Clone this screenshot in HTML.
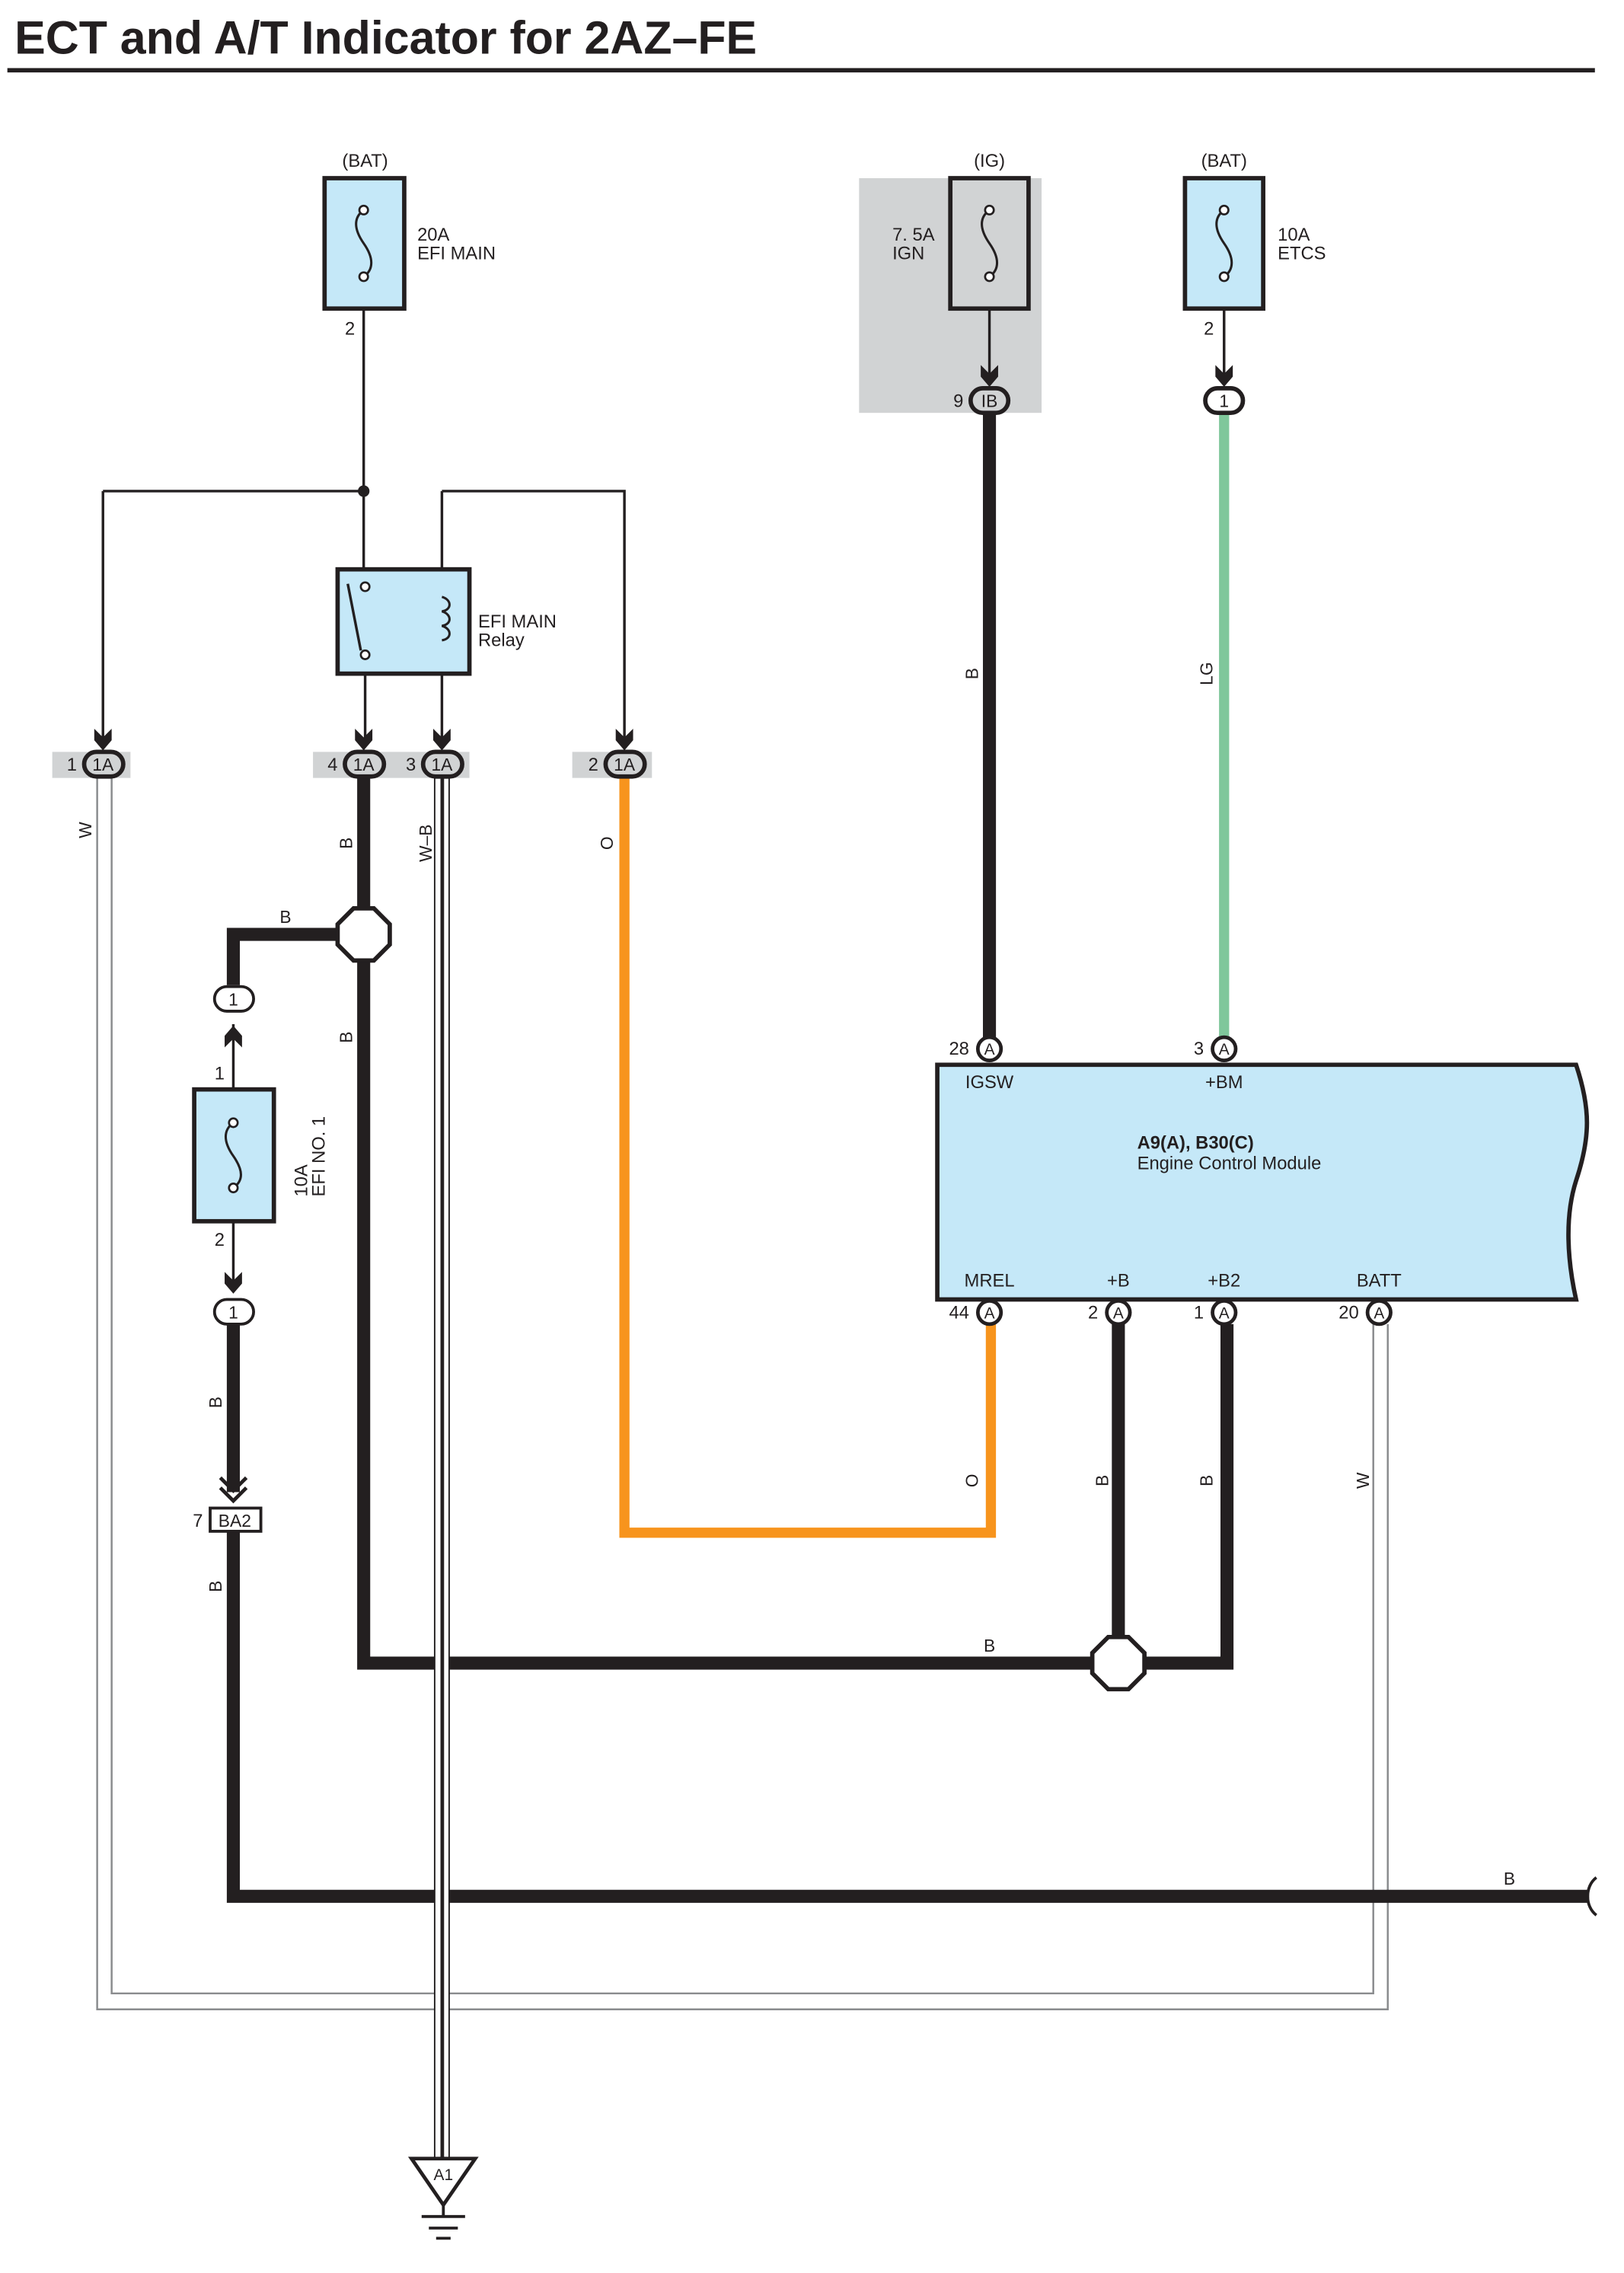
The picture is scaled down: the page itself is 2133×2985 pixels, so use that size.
<!DOCTYPE html>
<html><head><meta charset="utf-8"><style>
html,body{margin:0;padding:0;background:#fff}
svg{display:block}
text{font-family:"Liberation Sans",sans-serif;fill:#231f20}
</style></head><body>
<svg width="2133" height="2985" viewBox="0 0 1121 1569" xmlns="http://www.w3.org/2000/svg">
<defs>
<g id="arr"><path d="M-6,-12 L0,-6 L6,-12 L6,-4 L0,3 L-6,-4 Z" fill="#231f20"/></g>
</defs>
<text x="10" y="37" font-size="32" font-weight="bold">ECT and A/T Indicator for 2AZ–FE</text>
<rect x="5" y="47" width="1096" height="3" fill="#231f20"/>

<!-- gray backgrounds -->
<rect x="593" y="123" width="126" height="162" fill="#d1d3d4"/>
<rect x="36" y="519" width="54" height="18" fill="#d1d3d4"/>
<rect x="216" y="519" width="108" height="18" fill="#d1d3d4"/>
<rect x="395" y="519" width="55" height="18" fill="#d1d3d4"/>

<!-- W wire loop -->
<g fill="none" stroke="#8a8c8e" stroke-width="1.3">
<path d="M67,537 V1387 H958 V914"/>
<path d="M77,537 V1376 H948 V914"/>
</g>

<!-- thin wires -->
<g fill="none" stroke="#231f20" stroke-width="1.8">
<path d="M251,213 V405"/>
<path d="M252,452 V510"/>
<path d="M71,339 H251"/>
<path d="M71,339 V510"/>
<path d="M305,339 H431 V510"/>
<path d="M305,339 V412"/>
<path d="M305,442 V510"/>
<path d="M683,213 V262"/>
<path d="M845,213 V262"/>
<path d="M161,707 V843"/>
<path d="M161,752 V887"/>
</g>
<circle cx="251" cy="339" r="4" fill="#231f20"/>

<!-- fuses -->
<g stroke="#231f20" stroke-width="3">
<rect x="224" y="123" width="55" height="90" fill="#c5e8f8"/>
<rect x="656" y="123" width="54" height="90" fill="#d1d3d4"/>
<rect x="818" y="123" width="54" height="90" fill="#c5e8f8"/>
<rect x="134" y="752" width="55" height="91" fill="#c5e8f8"/>
<rect x="233" y="393" width="91" height="72" fill="#c5e8f8"/>
</g>
<g fill="none" stroke="#231f20" stroke-width="1.6">
<path d="M251,145 C244,150 244,158 251,168 C258,178 258,186 251,191"/>
<path d="M683,145 C676,150 676,158 683,168 C690,178 690,186 683,191"/>
<path d="M845,145 C838,150 838,158 845,168 C852,178 852,186 845,191"/>
<path d="M161,775 C154,780 154,788 161,798 C168,808 168,815 161,820"/>
</g>
<g fill="#fff" stroke="#231f20" stroke-width="1.4">
<circle cx="251" cy="145" r="3"/><circle cx="251" cy="191" r="3"/>
<circle cx="683" cy="145" r="3"/><circle cx="683" cy="191" r="3"/>
<circle cx="845" cy="145" r="3"/><circle cx="845" cy="191" r="3"/>
<circle cx="161" cy="775" r="3"/><circle cx="161" cy="820" r="3"/>
</g>
<!-- relay internals -->
<path d="M240,403 L249,449" stroke="#231f20" stroke-width="1.8"/>
<g fill="#fff" stroke="#231f20" stroke-width="1.4"><circle cx="252" cy="405" r="3"/><circle cx="252" cy="452" r="3"/></g>
<path d="M305,412 C312,414 312,421 305,422 C312,424 312,431 305,432 C312,434 312,441 305,442" fill="none" stroke="#231f20" stroke-width="1.6"/>

<!-- labels top -->
<g font-size="12.5">
<text x="252" y="115" text-anchor="middle">(BAT)</text>
<text x="683" y="115" text-anchor="middle">(IG)</text>
<text x="845" y="115" text-anchor="middle">(BAT)</text>
<text x="288" y="166">20A</text><text x="288" y="179">EFI MAIN</text>
<text x="616" y="166">7. 5A</text><text x="616" y="179">IGN</text>
<text x="882" y="166">10A</text><text x="882" y="179">ETCS</text>
<text x="238" y="231">2</text><text x="831" y="231">2</text>
<text x="330" y="433">EFI MAIN</text><text x="330" y="446">Relay</text>
<text x="148" y="745">1</text><text x="148" y="860">2</text>
<text x="212" y="826" transform="rotate(-90 212 826)">10A</text>
<text x="224" y="826" transform="rotate(-90 224 826)">EFI NO. 1</text>
</g>

<!-- colored / thick wires -->
<g fill="none" stroke-linejoin="miter">
<path d="M683,285 V716" stroke="#231f20" stroke-width="9"/>
<path d="M845,285 V716" stroke="#7fc79b" stroke-width="7"/>
<path d="M431,537 V1058 H684 V914" stroke="#f7941d" stroke-width="7"/>
<path d="M251,537 V1148 H847 V914" stroke="#231f20" stroke-width="9"/>
<path d="M772,914 V1148" stroke="#231f20" stroke-width="9"/>
<path d="M251,645 H161 V680" stroke="#231f20" stroke-width="9"/>
<path d="M161,914 V1030" stroke="#231f20" stroke-width="9"/>
<path d="M161,1057 V1309 H1097" stroke="#231f20" stroke-width="9"/>
</g>
<path d="M1102,1296 C1094,1302 1094,1316 1102,1322" fill="none" stroke="#231f20" stroke-width="2"/>
<!-- W-B -->
<rect x="300" y="537" width="10" height="953" fill="#fff" stroke="#231f20" stroke-width="1"/>
<rect x="304" y="537" width="2.5" height="953" fill="#231f20"/>
<!-- ground -->
<path d="M284,1490 H328 L306,1522 Z" fill="#fff" stroke="#231f20" stroke-width="2.5"/>
<text x="306" y="1505" font-size="11" text-anchor="middle">A1</text>
<path d="M306,1522 V1530 M291,1530 H321 M296,1538 H316 M301,1545 H311" stroke="#231f20" stroke-width="2"/>

<!-- splices -->
<g fill="#fff" stroke="#231f20" stroke-width="3">
<path d="M244,627 H258 L269,638 V652 L258,663 H244 L233,652 V638 Z"/>
<path d="M765,1130 H779 L790,1141 V1155 L779,1166 H765 L754,1155 V1141 Z"/>
</g>

<!-- arrows -->
<use href="#arr" x="71" y="515"/><use href="#arr" x="251" y="515"/>
<use href="#arr" x="305" y="515"/><use href="#arr" x="431" y="515"/>
<use href="#arr" x="683" y="264"/><use href="#arr" x="845" y="264"/>
<use href="#arr" x="161" y="890"/>
<use href="#arr" x="161" y="699" transform="rotate(180 161 705)"/>
<path d="M152,1020 L161,1029 L170,1020 M152,1027 L161,1036 L170,1027" fill="none" stroke="#231f20" stroke-width="2.5"/>

<!-- pill connectors -->
<g stroke="#231f20" stroke-width="3">
<rect x="58" y="519" width="27" height="17" rx="8.5" fill="#d1d3d4"/>
<rect x="238" y="519" width="27" height="17" rx="8.5" fill="#d1d3d4"/>
<rect x="292" y="519" width="27" height="17" rx="8.5" fill="#d1d3d4"/>
<rect x="418" y="519" width="27" height="17" rx="8.5" fill="#d1d3d4"/>
<rect x="670" y="268" width="26" height="17" rx="8.5" fill="#d1d3d4"/>
<rect x="832" y="268" width="26" height="17" rx="8.5" fill="#fff"/>
<rect x="148" y="681" width="27" height="17" rx="8.5" fill="#fff" stroke-width="2"/>
<rect x="148" y="897" width="27" height="17" rx="8.5" fill="#fff" stroke-width="2"/>
<rect x="145" y="1041" width="35" height="16" fill="#fff" stroke-width="2"/>
</g>
<g font-size="12" text-anchor="middle">
<text x="71" y="532">1A</text><text x="251" y="532">1A</text><text x="305" y="532">1A</text><text x="431" y="532">1A</text>
<text x="683" y="281">IB</text><text x="845" y="281">1</text>
<text x="161" y="694">1</text><text x="161" y="910">1</text><text x="162" y="1054">BA2</text>
</g>
<g font-size="12.5" text-anchor="end">
<text x="53" y="532">1</text><text x="233" y="532">4</text><text x="287" y="532">3</text><text x="413" y="532">2</text>
<text x="665" y="281">9</text><text x="140" y="1054">7</text>
</g>

<!-- ECM -->
<path d="M647,735 H1088 C1098,765 1098,785 1088,815 C1080,840 1082,870 1088,897 H647 Z" fill="#c5e8f8" stroke="#231f20" stroke-width="3"/>
<g fill="#fff" stroke="#231f20" stroke-width="2.5">
<circle cx="683" cy="724" r="8"/><circle cx="845" cy="724" r="8"/>
<circle cx="683" cy="906" r="8"/><circle cx="772" cy="906" r="8"/><circle cx="845" cy="906" r="8"/><circle cx="952" cy="906" r="8"/>
</g>
<g font-size="11" text-anchor="middle">
<text x="683" y="728">A</text><text x="845" y="728">A</text>
<text x="683" y="910">A</text><text x="772" y="910">A</text><text x="845" y="910">A</text><text x="952" y="910">A</text>
</g>
<g font-size="12.5" text-anchor="end">
<text x="669" y="728">28</text><text x="831" y="728">3</text>
<text x="669" y="910">44</text><text x="758" y="910">2</text><text x="831" y="910">1</text><text x="938" y="910">20</text>
</g>
<g font-size="12.5" text-anchor="middle">
<text x="683" y="751">IGSW</text><text x="845" y="751">+BM</text>
<text x="683" y="888">MREL</text><text x="772" y="888">+B</text><text x="845" y="888">+B2</text><text x="952" y="888">BATT</text>
</g>
<text x="785" y="793" font-size="12.5" font-weight="bold">A9(A), B30(C)</text>
<text x="785" y="807" font-size="12.5">Engine Control Module</text>

<!-- wire color labels -->
<g font-size="12">
<text x="197" y="637" text-anchor="middle">B</text>
<text x="683" y="1140" text-anchor="middle">B</text>
<text x="1042" y="1301" text-anchor="middle">B</text>
<text transform="translate(63,573) rotate(-90)" text-anchor="middle">W</text>
<text transform="translate(243,582) rotate(-90)" text-anchor="middle">B</text>
<text transform="translate(298,582) rotate(-90)" text-anchor="middle">W–B</text>
<text transform="translate(423,582) rotate(-90)" text-anchor="middle">O</text>
<text transform="translate(243,716) rotate(-90)" text-anchor="middle">B</text>
<text transform="translate(675,465) rotate(-90)" text-anchor="middle">B</text>
<text transform="translate(837,465) rotate(-90)" text-anchor="middle">LG</text>
<text transform="translate(153,968) rotate(-90)" text-anchor="middle">B</text>
<text transform="translate(153,1095) rotate(-90)" text-anchor="middle">B</text>
<text transform="translate(675,1022) rotate(-90)" text-anchor="middle">O</text>
<text transform="translate(765,1022) rotate(-90)" text-anchor="middle">B</text>
<text transform="translate(837,1022) rotate(-90)" text-anchor="middle">B</text>
<text transform="translate(945,1022) rotate(-90)" text-anchor="middle">W</text>
</g>
</svg>
</body></html>
